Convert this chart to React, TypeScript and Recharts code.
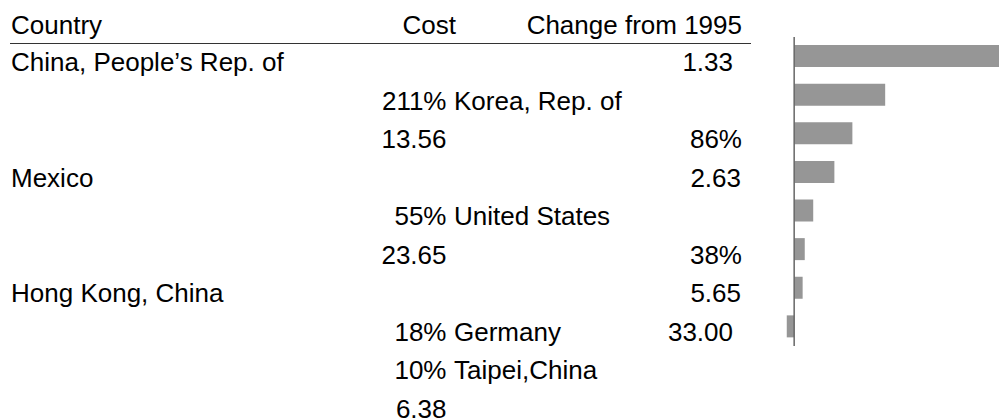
import React from "react";
import { Bar, BarChart, ReferenceLine, XAxis, YAxis } from "recharts";

// values
const countries = [
  "China, People’s Rep. of",
  "Korea, Rep. of",
  "Mexico",
  "United States",
  "Hong Kong, China",
  "Germany",
  "Taipei,China",
  "",
];
const costs = ["1.33", "13.56", "2.63", "23.65", "5.65", "33.00", "6.38"];
const changePct = [211, 86, 55, 38, 18, 10, 8, -7];
const headers = ["Country", "Cost", "Change from 1995"];

// the text table wraps badly in the original; each line: [left, cost col, name after cost, right]
const pct = (v: number) => `${v}%`;
const tableLines: [string, string, string, string][] = [
  [countries[0], "", "", costs[0]],
  ["", pct(changePct[0]), countries[1], ""],
  ["", costs[1], "", pct(changePct[1])],
  [countries[2], "", "", costs[2]],
  ["", pct(changePct[2]), countries[3], ""],
  ["", costs[3], "", pct(changePct[3])],
  [countries[4], "", "", costs[4]],
  ["", pct(changePct[4]), countries[5], costs[5]],
  ["", pct(changePct[5]), countries[6], ""],
  ["", costs[6], "", ""],
];
// right column ends are slightly ragged in the source
const rightEnds = [733, 0, 742, 741, 0, 742, 741, 733, 0, 0];

const barData = countries.map((name, i) => ({ name: name || "n/a", change: changePct[i] }));

const FONT = "'Liberation Sans', Arial, sans-serif";
const ROW0 = 71;
const PITCH = 38.5;

function TextTable() {
  return (
    <svg width={999} height={419} style={{ position: "absolute", left: 0, top: 0 }}>
      <g fontFamily={FONT} fontSize={26} fill="#000">
        <text x={11} y={34}>{headers[0]}</text>
        <text x={456} y={34} textAnchor="end">{headers[1]}</text>
        <text x={742} y={34} textAnchor="end">{headers[2]}</text>
        {tableLines.map((ln, i) => {
          const y = ROW0 + PITCH * i;
          return (
            <g key={i}>
              {ln[0] && <text x={11} y={y}>{ln[0]}</text>}
              {ln[1] && <text x={446.5} y={y} textAnchor="end">{ln[1]}</text>}
              {ln[2] && <text x={454} y={y}>{ln[2]}</text>}
              {ln[3] && <text x={rightEnds[i]} y={y} textAnchor="end">{ln[3]}</text>}
            </g>
          );
        })}
      </g>
      <line x1={10} x2={751} y1={43.5} y2={43.5} stroke="#333" strokeWidth={1.2} />
    </svg>
  );
}

export default function App() {
  return (
    <div
      style={{
        position: "absolute",
        left: 0,
        top: 0,
        width: 999,
        height: 419,
        overflow: "hidden",
        background: "#fff",
      }}
    >
      <TextTable />
      <div style={{ position: "absolute", left: 772.5, top: 36.7 }}>
        <BarChart
          width={254}
          height={309}
          data={barData}
          layout="vertical"
          margin={{ top: 0, right: 0, left: 0, bottom: 0 }}
        >
          <XAxis type="number" domain={[-20, 220]} hide />
          <YAxis type="category" dataKey="name" hide />
          <Bar dataKey="change" fill="#969696" barSize={22} isAnimationActive={false} />
          <ReferenceLine x={0} stroke="#666" strokeWidth={1.5} />
        </BarChart>
      </div>
    </div>
  );
}
